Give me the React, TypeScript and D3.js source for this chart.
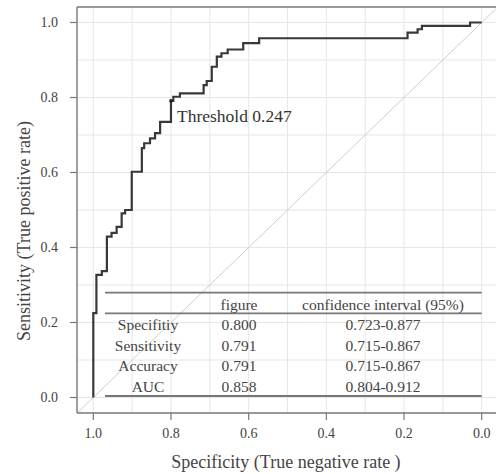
import React from "react";
import * as d3 from "d3";

// ROC curve vertices (specificity, sensitivity)
const curveSpec = [
  1.0, 1.0, 0.992, 0.992, 0.978, 0.978, 0.965, 0.965, 0.953, 0.953, 0.94, 0.94,
  0.927, 0.927, 0.918, 0.918, 0.901, 0.901, 0.875, 0.875, 0.869, 0.869, 0.854, 0.854,
  0.841, 0.841, 0.828, 0.828, 0.8, 0.8, 0.794, 0.794, 0.777, 0.777, 0.716, 0.716,
  0.708, 0.708, 0.695, 0.695, 0.682, 0.682, 0.67, 0.67, 0.654, 0.654, 0.614, 0.614,
  0.573, 0.573, 0.191, 0.191, 0.165, 0.165, 0.154, 0.154, 0.03, 0.03, 0.0,
];
const curveSens = [
  0.0, 0.225, 0.225, 0.327, 0.327, 0.337, 0.337, 0.429, 0.429, 0.439, 0.439, 0.455,
  0.455, 0.491, 0.491, 0.5, 0.5, 0.602, 0.602, 0.665, 0.665, 0.678, 0.678, 0.691,
  0.691, 0.705, 0.705, 0.735, 0.735, 0.791, 0.791, 0.802, 0.802, 0.811, 0.811, 0.833,
  0.833, 0.844, 0.844, 0.882, 0.882, 0.909, 0.909, 0.918, 0.918, 0.928, 0.928, 0.945,
  0.945, 0.958, 0.958, 0.973, 0.973, 0.982, 0.982, 0.991, 0.991, 1.0, 1.0,
];

const thresholdSpec = 0.8;
const thresholdSens = 0.791;
const thresholdLabel = "Threshold 0.247";

const tickValues = [1.0, 0.8, 0.6, 0.4, 0.2, 0.0];
const gridValues = d3.range(0, 11).map((d) => d / 10);

const tableHeader = ["", "figure", "confidence  interval (95%)"];
const metricNames = ["Specifitiy", "Sensitivity", "Accuracy", "AUC"];
const metricValues = ["0.800", "0.791", "0.791", "0.858"];
const metricCI = ["0.723-0.877", "0.715-0.867", "0.715-0.867", "0.804-0.912"];

const W = 496;
const H = 474;
const FONT = "'Liberation Serif', 'Times New Roman', serif";

// panel edges (plot region with R's 4% padding)
const P = { left: 77, top: 7, right: 497, bottom: 413 };

export default function App() {
  const x = d3.scaleLinear().domain([1, 0]).range([93.3, 481.7]);
  const y = d3.scaleLinear().domain([0, 1]).range([397.5, 22.5]);

  const pts: [number, number][] = curveSpec.map((s, i) => [s, curveSens[i]]);
  const line = d3
    .line<[number, number]>()
    .x((d) => x(d[0]))
    .y((d) => y(d[1]));

  // diagonal across the whole plot region
  const sL = x.invert(P.left);
  const sR = x.invert(P.right);

  // table layout
  const tblX0 = 105;
  const tblX1 = x(0);
  const colX = [148, 239, 383];
  const headerY = 305;
  const rowY = metricNames.map((_, i) => 325 + i * 20.5);

  return (
    <svg
      width={W}
      height={H}
      style={{ position: "absolute", left: 0, top: 0, background: "#fff" }}
      fontFamily={FONT}
    >
      {/* grid */}
      <g stroke="#e6e6e6" strokeWidth={1}>
        {gridValues.map((v) => (
          <line key={"gx" + v} x1={x(v)} x2={x(v)} y1={P.top} y2={P.bottom} />
        ))}
        {gridValues.map((v) => (
          <line key={"gy" + v} x1={P.left} x2={P.right} y1={y(v)} y2={y(v)} />
        ))}
      </g>

      {/* chance diagonal */}
      <line
        x1={P.left}
        y1={y(1 - sL)}
        x2={P.right}
        y2={y(1 - sR)}
        stroke="#cfcfcf"
        strokeWidth={1}
      />

      {/* ROC curve */}
      <path d={line(pts) || ""} fill="none" stroke="#383838" strokeWidth={2.2} />

      {/* threshold point */}
      <circle cx={x(thresholdSpec)} cy={y(thresholdSens)} r={1.8} fill="#222" />
      <text
        x={x(thresholdSpec) + 6}
        y={y(thresholdSens) + 21}
        fontSize={17.5}
        fill="#333"
      >
        {thresholdLabel}
      </text>

      {/* frame */}
      <g stroke="#777" strokeWidth={1.4} fill="none">
        <line x1={P.left} x2={P.right} y1={P.top} y2={P.top} />
        <line x1={P.left} x2={P.left} y1={P.top} y2={P.bottom} />
        <line x1={P.left} x2={P.right} y1={P.bottom} y2={P.bottom} />
      </g>

      {/* y axis */}
      <g>
        {tickValues.map((v) => (
          <g key={"yt" + v}>
            <line x1={P.left - 7} x2={P.left} y1={y(v)} y2={y(v)} stroke="#777" strokeWidth={1.2} />
            <text
              x={P.left - 19}
              y={y(v)}
              dy="0.35em"
              textAnchor="end"
              fontSize={14}
              fill="#444"
            >
              {v.toFixed(1)}
            </text>
          </g>
        ))}
        <text
          transform={`translate(24,231) rotate(-90)`}
          textAnchor="middle"
          dy="0.35em"
          fontSize={18}
          fill="#444"
        >
          Sensitivity (True positive rate)
        </text>
      </g>

      {/* x axis */}
      <g>
        {tickValues.map((v) => (
          <g key={"xt" + v}>
            <line x1={x(v)} x2={x(v)} y1={P.bottom} y2={P.bottom + 7} stroke="#777" strokeWidth={1.2} />
            <text
              x={x(v)}
              y={433}
              dy="0.35em"
              textAnchor="middle"
              fontSize={14}
              fill="#444"
            >
              {v.toFixed(1)}
            </text>
          </g>
        ))}
        <text x={286} y={462} dy="0.35em" textAnchor="middle" fontSize={18} fill="#444">
          Specificity (True negative rate )
        </text>
      </g>

      {/* table */}
      <g stroke="#777" strokeWidth={1.8}>
        <line x1={tblX0} x2={tblX1} y1={292.7} y2={292.7} />
        <line x1={tblX0} x2={tblX1} y1={313.3} y2={313.3} />
        <line x1={tblX0} x2={tblX1} y1={396} y2={396} />
      </g>
      <g fontSize={15.5} fill="#444" textAnchor="middle" style={{ whiteSpace: "pre" }}>
        {tableHeader.map((h, i) =>
          h ? (
            <text key={"h" + i} x={colX[i]} y={headerY} dy="0.35em">
              {h}
            </text>
          ) : null
        )}
        {metricNames.map((m, i) => (
          <g key={m}>
            <text x={colX[0]} y={rowY[i]} dy="0.35em">
              {m}
            </text>
            <text x={colX[1]} y={rowY[i]} dy="0.35em">
              {metricValues[i]}
            </text>
            <text x={colX[2]} y={rowY[i]} dy="0.35em">
              {metricCI[i]}
            </text>
          </g>
        ))}
      </g>
    </svg>
  );
}
